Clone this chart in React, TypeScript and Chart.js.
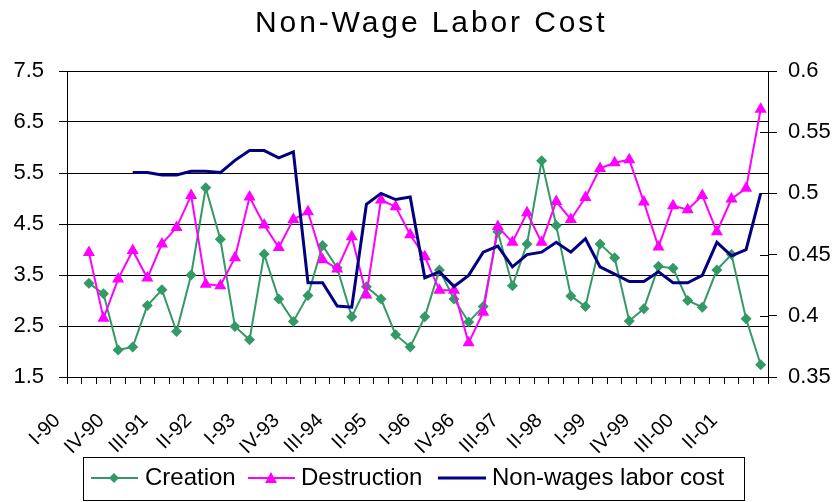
import React, { useEffect, useRef } from 'react';
import { Chart, registerables } from 'chart.js';

Chart.register(...registerables);

const categories = [
  'I-90', 'II-90', 'III-90', 'IV-90',
  'I-91', 'II-91', 'III-91', 'IV-91',
  'I-92', 'II-92', 'III-92', 'IV-92',
  'I-93', 'II-93', 'III-93', 'IV-93',
  'I-94', 'II-94', 'III-94', 'IV-94',
  'I-95', 'II-95', 'III-95', 'IV-95',
  'I-96', 'II-96', 'III-96', 'IV-96',
  'I-97', 'II-97', 'III-97', 'IV-97',
  'I-98', 'II-98', 'III-98', 'IV-98',
  'I-99', 'II-99', 'III-99', 'IV-99',
  'I-00', 'II-00', 'III-00', 'IV-00',
  'I-01', 'II-01', 'III-01', 'IV-01',
];

const shownLabels = [
  'I-90', 'IV-90', 'III-91', 'II-92', 'I-93', 'IV-93', 'III-94', 'II-95',
  'I-96', 'IV-96', 'III-97', 'II-98', 'I-99', 'IV-99', 'III-00', 'II-01',
];

const creation = [
  null, 3.34, 3.13, 2.03, 2.09, 2.90, 3.21, 2.39,
  3.50, 5.21, 4.20, 2.49, 2.23, 3.91, 3.03, 2.59,
  3.10, 4.08, 3.64, 2.68, 3.27, 3.03, 2.33, 2.09,
  2.68, 3.60, 3.03, 2.58, 2.88, 4.35, 3.29, 4.11,
  5.74, 4.47, 3.09, 2.88, 4.11, 3.84, 2.60, 2.84,
  3.67, 3.63, 3.00, 2.87, 3.60, 3.90, 2.64, 1.74,
];

const destruction = [
  null, 3.94, 2.65, 3.42, 3.98, 3.44, 4.11, 4.43,
  5.06, 3.32, 3.29, 3.84, 5.03, 4.48, 4.04, 4.59,
  4.74, 3.80, 3.62, 4.25, 3.11, 4.97, 4.84, 4.29,
  3.86, 3.20, 3.20, 2.17, 2.77, 4.45, 4.14, 4.72,
  4.14, 4.94, 4.59, 5.02, 5.59, 5.70, 5.76, 4.93,
  4.05, 4.86, 4.78, 5.06, 4.35, 4.99, 5.20, 6.75,
];

const nonWageCost = [
  null, null, null, null, 0.517, 0.517, 0.515, 0.515,
  0.518, 0.518, 0.517, 0.527, 0.535, 0.535, 0.529, 0.534,
  0.427, 0.427, 0.408, 0.407, 0.491, 0.500, 0.495, 0.497,
  0.431, 0.436, 0.424, 0.433, 0.452, 0.457, 0.440, 0.450,
  0.452, 0.460, 0.452, 0.463, 0.440, 0.434, 0.428, 0.428,
  0.436, 0.427, 0.427, 0.433, 0.460, 0.449, 0.454, 0.500,
];

const TITLE = 'Non-Wage Labor Cost';
const SERIES_NAMES = ['Creation', 'Destruction', 'Non-wages labor cost'];
const GREEN = '#339966';
const MAGENTA = '#FF00FF';
const NAVY = '#000080';
const FONT = "'Liberation Sans', Arial, sans-serif";

const titlePlugin = {
  id: 'customTitle',
  afterDraw(chart: any) {
    const ctx = chart.ctx;
    ctx.save();
    ctx.font = `30px ${FONT}`;
    ctx.fillStyle = '#000';
    ctx.textBaseline = 'alphabetic';
    ctx.textAlign = 'left';
    try { ctx.letterSpacing = '2.9px'; } catch (e) {}
    ctx.fillText(TITLE, 255, 32);
    ctx.restore();
  },
};

const crossTicksPlugin = {
  id: 'crossTicks',
  afterDraw(chart: any) {
    const ctx = chart.ctx;
    const s = chart.scales.y1;
    ctx.save();
    ctx.strokeStyle = '#000';
    ctx.lineWidth = 1;
    s.ticks.forEach((t: any) => {
      const y = Math.round(s.getPixelForValue(t.value)) + 0.5;
      ctx.beginPath();
      ctx.moveTo(s.left - 8, y);
      ctx.lineTo(s.left, y);
      ctx.stroke();
    });
    ctx.restore();
  },
};

const legendPlugin = {
  id: 'boxLegend',
  afterDraw(chart: any) {
    const ctx = chart.ctx;
    ctx.save();
    ctx.strokeStyle = '#000';
    ctx.lineWidth = 1;
    ctx.strokeRect(83.5, 457.5, 661, 43);
    const y = 478;
    ctx.font = `24px ${FONT}`;
    ctx.fillStyle = '#000';
    ctx.textBaseline = 'middle';
    ctx.textAlign = 'left';

    // Creation
    ctx.strokeStyle = GREEN;
    ctx.lineWidth = 2;
    ctx.beginPath(); ctx.moveTo(91, y); ctx.lineTo(138, y); ctx.stroke();
    ctx.fillStyle = GREEN;
    ctx.beginPath();
    ctx.moveTo(114, y - 5); ctx.lineTo(119, y); ctx.lineTo(114, y + 5); ctx.lineTo(109, y); ctx.closePath();
    ctx.fill();
    ctx.fillStyle = '#000';
    ctx.fillText(SERIES_NAMES[0], 145, y);

    // Destruction
    ctx.strokeStyle = MAGENTA;
    ctx.beginPath(); ctx.moveTo(248, y); ctx.lineTo(295, y); ctx.stroke();
    ctx.fillStyle = MAGENTA;
    ctx.beginPath();
    ctx.moveTo(271, y - 6); ctx.lineTo(277, y + 5); ctx.lineTo(265, y + 5); ctx.closePath();
    ctx.fill();
    ctx.fillStyle = '#000';
    ctx.fillText(SERIES_NAMES[1], 301, y);

    // Non-wage
    ctx.strokeStyle = NAVY;
    ctx.lineWidth = 3;
    ctx.beginPath(); ctx.moveTo(438, y); ctx.lineTo(486, y); ctx.stroke();
    ctx.fillStyle = '#000';
    ctx.fillText(SERIES_NAMES[2], 492, y);
    ctx.restore();
  },
};

export default function App() {
  const ref = useRef<HTMLCanvasElement | null>(null);

  useEffect(() => {
    if (!ref.current) return;
    const chart = new Chart(ref.current, {
      type: 'line',
      data: {
        labels: categories,
        datasets: [
          {
            label: SERIES_NAMES[2],
            data: nonWageCost,
            yAxisID: 'y1',
            borderColor: NAVY,
            backgroundColor: NAVY,
            borderWidth: 3,
            pointRadius: 0,
            tension: 0,
            order: 0,
          },
          {
            label: SERIES_NAMES[1],
            data: destruction,
            yAxisID: 'y',
            borderColor: MAGENTA,
            backgroundColor: MAGENTA,
            borderWidth: 2,
            pointStyle: 'triangle',
            pointRadius: 7,
            pointBorderWidth: 0,
            tension: 0,
            order: 1,
          },
          {
            label: SERIES_NAMES[0],
            data: creation,
            yAxisID: 'y',
            borderColor: GREEN,
            backgroundColor: GREEN,
            borderWidth: 2,
            pointStyle: 'rectRot',
            pointRadius: 5.5,
            pointBorderWidth: 0,
            tension: 0,
            order: 2,
          },
        ],
      },
      options: {
        responsive: false,
        animation: false,
        devicePixelRatio: 1,
        layout: { padding: { top: 71, left: 0, right: 0, bottom: 0 } },
        plugins: {
          legend: { display: false },
          title: { display: false },
          tooltip: { enabled: false },
        },
        scales: {
          x: {
            type: 'category',
            offset: true,
            grid: {
              offset: true,
              drawOnChartArea: false,
              drawTicks: true,
              tickLength: 7,
              color: '#000',
            },
            border: { display: true, color: '#000', width: 1 },
            ticks: {
              autoSkip: false,
              minRotation: 45,
              maxRotation: 45,
              labelOffset: -17,
              padding: 25,
              color: '#000',
              font: { family: FONT, size: 20 },
              callback: function (this: any, value: any) {
                const lab = this.getLabelForValue(value);
                return shownLabels.includes(lab) ? lab : '';
              },
            },
            afterFit: (s: any) => { s.height = 125; },
          },
          y: {
            position: 'left',
            min: 1.5,
            max: 7.5,
            grid: { color: '#000', tickLength: 8, drawOnChartArea: true },
            border: { display: true, color: '#000', width: 1 },
            ticks: {
              stepSize: 1,
              padding: 15,
              color: '#000',
              font: { family: FONT, size: 22 },
            },
            afterFit: (s: any) => { s.width = 67; },
          },
          y1: {
            position: 'right',
            min: 0.35,
            max: 0.6,
            grid: { color: '#000', tickLength: 9, drawOnChartArea: false },
            border: { display: true, color: '#000', width: 1 },
            ticks: {
              stepSize: 0.05,
              padding: 11,
              color: '#000',
              font: { family: FONT, size: 22 },
              callback: (v: any) => String(Number(Number(v).toFixed(2))),
            },
            afterFit: (s: any) => { s.width = 69; },
          },
        },
      },
      plugins: [titlePlugin, crossTicksPlugin, legendPlugin],
    } as any);
    return () => chart.destroy();
  }, []);

  return (
    <div style={{ position: 'absolute', left: 0, top: 0, width: 837, height: 502, background: '#fff' }}>
      <canvas ref={ref} width={837} height={502} style={{ display: 'block' }} />
    </div>
  );
}
